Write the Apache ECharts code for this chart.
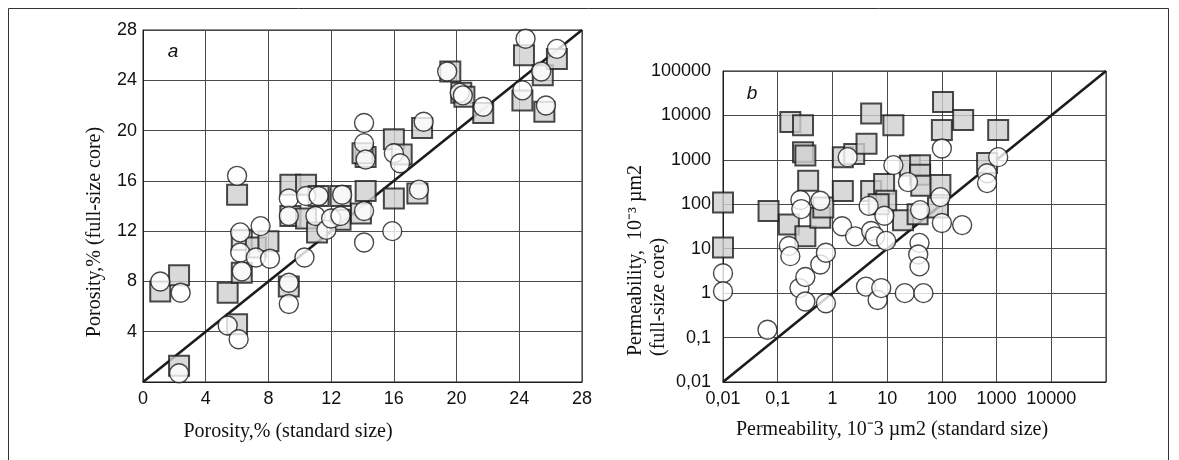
<!DOCTYPE html>
<html>
<head>
<meta charset="utf-8">
<script src="https://cdn.jsdelivr.net/npm/echarts@6/dist/echarts.min.js"></script>
<style>
html,body{margin:0;padding:0;background:#fff;}
#c{width:1179px;height:460px;}
</style>
</head>
<body>
<div id="c"></div>
<script>
// ---- Panel a: porosity (%) ----
const poroTicks = [0, 4, 8, 12, 16, 20, 24, 28];
const sqPoroStd  = [1.1, 2.3, 2.3, 5.4, 6.0, 6.0, 6.3, 6.3, 7.2, 8.0, 9.4, 10.4, 9.4, 10.4, 11.2, 11.1, 12.6, 12.6, 9.3, 13.9, 14.2, 14.2, 14.0, 16.0, 16.5, 16.0, 17.5, 17.8, 19.6, 20.3, 20.5, 21.7, 24.2, 24.3, 25.5, 25.6, 26.4];
const sqPoroFull = [7.2, 8.5, 1.3, 7.1, 4.6, 14.9, 11.3, 8.7, 10.7, 11.2, 15.7, 15.7, 13.2, 13.0, 14.8, 11.9, 12.9, 14.8, 7.6, 13.4, 15.2, 17.9, 18.2, 19.3, 18.1, 14.6, 15.0, 20.2, 24.7, 23.0, 22.7, 21.4, 22.4, 26.0, 24.4, 21.5, 25.7];
const ciPoroStd  = [1.1, 2.4, 2.3, 5.4, 6.1, 6.0, 6.2, 6.2, 6.3, 7.2, 7.5, 8.1, 10.3, 9.3, 9.3, 9.3, 9.3, 10.4, 11.2, 11.0, 11.7, 12.0, 12.7, 12.6, 14.1, 14.1, 14.2, 14.1, 14.1, 16.0, 16.4, 15.9, 17.6, 17.9, 19.4, 20.2, 20.4, 21.7, 24.2, 24.4, 25.4, 25.7, 26.4];
const ciPoroFull = [8.0, 7.1, 0.7, 4.5, 3.4, 16.4, 11.9, 10.3, 8.8, 9.9, 12.4, 9.8, 9.9, 14.6, 13.2, 7.9, 6.2, 14.8, 14.8, 13.2, 12.1, 13.0, 14.9, 13.2, 20.6, 19.0, 17.7, 13.6, 11.1, 18.2, 17.4, 12.0, 15.3, 20.7, 24.7, 23.0, 22.8, 21.9, 23.2, 27.3, 24.7, 22.0, 26.5];

// ---- Panel b: permeability (10^-3 µm2), log scale ----
const permTicks = ['0,01', '0,1', '1', '10', '100', '1000', '10000', '100000'];
const sqPermStd  = [0.01, 0.01, 0.068, 0.17, 0.29, 0.29, 0.32, 0.36, 0.16, 0.32, 0.6, 0.68, 1.55, 2.5, 4.2, 5.1, 13, 1.55, 5.1, 8.8, 9.6, 7, 19.5, 26, 40, 40, 42, 36, 94, 105, 100, 245, 1070, 670, 85];
const sqPermFull = [110, 10.7, 71, 7100, 6000, 1480, 1250, 340, 35, 19, 50, 85, 1150, 1350, 2300, 11000, 6000, 200, 200, 285, 120, 100, 44, 740, 760, 460, 260, 60, 270, 20000, 4700, 7900, 4700, 850, 85];
const ciPermStd  = [0.01, 0.01, 0.065, 0.16, 0.17, 0.26, 0.27, 0.25, 0.32, 0.32, 0.6, 0.6, 0.76, 0.76, 1.5, 1.9, 2.6, 4.1, 4.6, 5.1, 6, 6.7, 7.8, 8.9, 9.6, 13, 21, 24, 40, 39, 37, 39, 46, 100, 100, 94, 235, 670, 670, 1070];
const ciPermFull = [2.8, 1.1, 0.15, 11.5, 6.8, 125, 78, 1.3, 2.3, 0.65, 120, 4.4, 8.1, 0.59, 32, 1150, 19, 1.4, 92, 25, 19, 0.7, 1.3, 55, 15, 760, 1.0, 316, 74, 13.5, 7.4, 4, 1.0, 38, 1800, 145, 34, 500, 300, 1150];

const pairs = (xs, ys) => xs.map((x, i) => [x, ys[i]]);
const permLabel = (v, hideTop) => {
  const p = Math.round(Math.log10(v));
  const idx = p + 2;
  if (hideTop && idx === permTicks.length - 1) return '';
  return permTicks[idx] !== undefined ? permTicks[idx] : '';
};

const INK = '#1c1c1c';
const GRIDC = '#4a4a4a';
const tickFont = {fontFamily: 'Liberation Sans', fontSize: 18, color: '#111'};
const nameFont = {fontFamily: 'Liberation Serif', fontSize: 20, fill: '#111'};

const sqStyle = {color: '#cfcfcf', borderColor: INK, borderWidth: 2};
const ciStyle = {color: '#ffffff', borderColor: INK, borderWidth: 1.4};

const chart = echarts.init(document.getElementById('c'), null, {renderer: 'canvas'});

const valAxis = (gi, isY) => ({
  type: 'value', gridIndex: gi, min: poroTicks[0], max: poroTicks[poroTicks.length - 1], interval: 4,
  axisLine: {show: true, lineStyle: {color: INK, width: 1}},
  axisTick: {show: false},
  splitLine: {show: true, lineStyle: {color: GRIDC, width: 1}},
  axisLabel: Object.assign({margin: isY ? 6 : 8, formatter: v => (isY && v === 0) ? '' : String(v)}, tickFont)
});
const logAxis = (gi, isY) => ({
  type: 'log', logBase: 10, gridIndex: gi, min: 0.01, max: 100000, splitNumber: 7,
  axisLine: {show: true, lineStyle: {color: INK, width: 1}},
  axisTick: {show: false},
  splitLine: {show: true, lineStyle: {color: GRIDC, width: 1}},
  minorSplitLine: {show: false},
  axisLabel: Object.assign({margin: isY ? 12 : 8, showMinLabel: true, showMaxLabel: true, formatter: v => permLabel(v, !isY)}, tickFont)
});

chart.setOption({
  animation: false,
  backgroundColor: '#ffffff',
  grid: [
    {left: 143, top: 30, width: 439, height: 352, show: true, borderColor: INK, borderWidth: 1, containLabel: false},
    {left: 723, top: 71, width: 383, height: 311, show: true, borderColor: INK, borderWidth: 1, containLabel: false}
  ],
  xAxis: [valAxis(0, false), logAxis(1, false)],
  yAxis: [valAxis(0, true), logAxis(1, true)],
  series: [
    {type: 'line', xAxisIndex: 0, yAxisIndex: 0, data: [[0, 0], [28, 28]], symbol: 'none', lineStyle: {color: INK, width: 2.6}, z: 2},
    {type: 'scatter', xAxisIndex: 0, yAxisIndex: 0, data: pairs(sqPoroStd, sqPoroFull), symbol: 'rect', symbolSize: 20, itemStyle: sqStyle, z: 3},
    {type: 'scatter', xAxisIndex: 0, yAxisIndex: 0, data: pairs(ciPoroStd, ciPoroFull), symbol: 'circle', symbolSize: 19, itemStyle: ciStyle, z: 4},
    {type: 'line', xAxisIndex: 1, yAxisIndex: 1, data: [[0.01, 0.01], [100000, 100000]], symbol: 'none', lineStyle: {color: INK, width: 2.6}, z: 2},
    {type: 'scatter', xAxisIndex: 1, yAxisIndex: 1, data: pairs(sqPermStd, sqPermFull), symbol: 'rect', symbolSize: 20, itemStyle: sqStyle, z: 3},
    {type: 'scatter', xAxisIndex: 1, yAxisIndex: 1, data: pairs(ciPermStd, ciPermFull), symbol: 'circle', symbolSize: 19, itemStyle: ciStyle, z: 4}
  ],
  graphic: [
    {type: 'rect', silent: true, z: 0, shape: {x: 8.5, y: 8.5, width: 1160, height: 470}, style: {fill: null, stroke: '#333', lineWidth: 1}},
    {type: 'text', x: 173, y: 52, z: 10, style: {text: 'a', fontFamily: 'Liberation Sans', fontStyle: 'italic', fontSize: 19, fill: '#111', align: 'center', verticalAlign: 'middle'}},
    {type: 'text', x: 752, y: 94, z: 10, style: {text: 'b', fontFamily: 'Liberation Sans', fontStyle: 'italic', fontSize: 19, fill: '#111', align: 'center', verticalAlign: 'middle'}},
    {type: 'text', x: 288, y: 432, z: 10, style: Object.assign({text: 'Porosity,% (standard size)', align: 'center', verticalAlign: 'middle'}, nameFont)},
    {type: 'text', x: 95, y: 232, rotation: Math.PI / 2, z: 10, style: Object.assign({text: 'Porosity,% (full-size core)', align: 'center', verticalAlign: 'middle'}, nameFont)},
    {type: 'text', x: 892, y: 430, z: 10, style: Object.assign({text: 'Permeability, 10\u207B3 \u00B5m2 (standard size)', align: 'center', verticalAlign: 'middle'}, nameFont)},
    {type: 'text', x: 636, y: 356, rotation: Math.PI / 2, z: 10, style: Object.assign({text: 'Permeability,  10\u207B\u00B3 \u00B5m2', align: 'left', verticalAlign: 'middle'}, nameFont)},
    {type: 'text', x: 659, y: 356, rotation: Math.PI / 2, z: 10, style: Object.assign({text: '(full-size core)', align: 'left', verticalAlign: 'middle'}, nameFont)}
  ]
});
</script>
</body>
</html>
